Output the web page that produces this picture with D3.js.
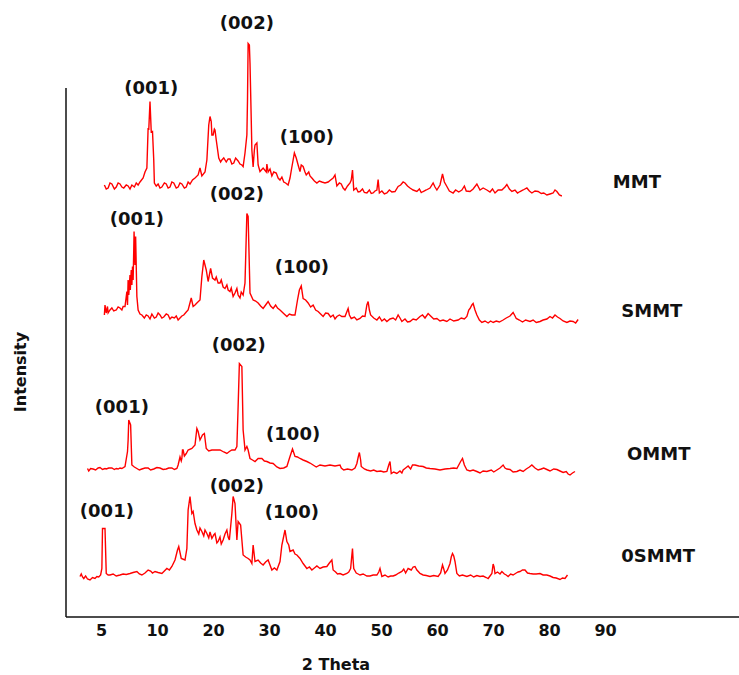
<!DOCTYPE html>
<html>
<head>
<meta charset="utf-8">
<script src="https://cdn.jsdelivr.net/npm/d3@7"></script>
<style>
  html, body { margin: 0; padding: 0; background: #fff; }
  svg text { font-family: "DejaVu Sans", sans-serif; font-weight: bold; fill: #111; }
</style>
</head>
<body>
<svg id="chart" width="739" height="675"></svg>
<script>
// ---------------- DATA ----------------
const sampleNames = ["MMT", "SMMT", "OMMT", "0SMMT"];
const tickLabels = ["5", "10", "20", "30", "40", "50", "60", "70", "80", "90"];
const xTitle = "2 Theta";
const yTitle = "Intensity";
// vertical stacking offsets (intensity units)
const offsets = [800, 550, 250, 40];

// [2θ, intensity] pairs
const mmt = [[8.9,30],[9.2,22],[9.5,24],[9.8,34],[10.1,32],[10.5,22],[10.8,26],[11.1,34],[11.4,32],[11.7,26],[12.0,24],[12.4,30],[12.7,28],[13.0,22],[13.3,30],[13.7,26],[14.0,34],[14.3,30],[14.6,36],[15.1,44],[15.4,56],[15.7,64],[15.9,144],[16.0,140],[16.2,197],[16.4,136],[16.6,137],[16.8,80],[16.9,34],[17.2,28],[17.5,32],[17.8,24],[18.1,26],[18.5,34],[18.8,32],[19.1,24],[19.4,26],[19.7,36],[20.0,34],[20.4,24],[20.7,26],[21.0,34],[21.3,32],[21.7,24],[22.0,26],[22.3,36],[22.6,32],[23.0,40],[23.4,44],[23.9,50],[24.2,64],[24.5,48],[25.0,56],[25.3,80],[25.6,150],[25.8,167],[26.0,157],[26.1,130],[26.3,130],[26.5,142],[26.6,140],[26.8,120],[27.2,84],[27.5,76],[27.7,80],[28.0,84],[28.4,76],[28.7,82],[29.0,82],[29.3,72],[29.6,74],[29.9,84],[30.3,78],[30.6,72],[30.9,70],[31.1,67],[31.4,94],[31.7,130],[31.8,200],[31.9,313],[32.1,310],[32.2,274],[32.4,160],[32.5,100],[32.7,66],[32.9,100],[33.0,110],[33.3,114],[33.5,70],[33.8,57],[34.3,64],[34.8,56],[34.9,72],[35.1,56],[35.4,62],[35.7,48],[36.0,56],[36.4,54],[36.7,44],[37.0,40],[37.3,46],[37.6,36],[37.9,34],[38.3,30],[38.6,44],[38.9,66],[39.1,80],[39.3,94],[39.6,84],[39.9,70],[40.2,57],[40.4,70],[40.7,67],[41.0,56],[41.2,50],[41.6,56],[41.8,48],[42.1,44],[42.5,38],[42.9,34],[43.3,38],[43.7,36],[44.2,34],[44.7,36],[45.1,40],[45.5,44],[45.8,50],[46.1,28],[46.5,34],[46.8,32],[47.1,24],[47.4,20],[47.8,28],[48.2,34],[48.4,40],[48.6,60],[48.8,20],[49.2,24],[49.5,16],[49.8,17],[50.2,22],[50.5,15],[50.9,14],[51.3,20],[51.6,13],[51.9,14],[52.2,18],[52.5,20],[52.7,41],[52.9,14],[53.3,18],[53.7,12],[54.1,14],[54.5,20],[54.9,16],[55.4,17],[55.9,27],[56.3,30],[56.7,36],[57.0,34],[57.4,28],[57.8,24],[58.3,20],[58.9,17],[59.3,22],[59.6,15],[59.9,17],[60.4,20],[61.0,24],[61.5,34],[61.8,26],[62.1,20],[62.6,30],[63.0,52],[63.3,36],[63.7,27],[64.1,18],[64.7,14],[65.1,20],[65.6,16],[66.1,20],[66.5,28],[66.8,18],[67.4,17],[67.9,22],[68.5,32],[69.0,20],[69.5,24],[70.1,20],[70.6,16],[71.0,22],[71.4,14],[71.9,20],[72.5,20],[73.0,26],[73.3,31],[73.7,22],[74.1,17],[74.6,20],[75.0,14],[75.4,17],[75.9,20],[76.5,24],[76.9,18],[77.3,14],[77.8,18],[78.3,17],[78.8,13],[79.2,14],[79.7,10],[80.2,12],[80.7,14],[81.0,20],[81.3,17],[81.7,10],[82.1,8]];

const smmt = [[8.9,20],[9.0,40],[9.2,24],[9.4,37],[9.5,24],[9.8,30],[10.1,34],[10.4,28],[10.8,30],[11.1,36],[11.4,34],[11.7,30],[11.9,37],[12.2,37],[12.5,67],[12.6,40],[12.7,90],[12.8,60],[13.0,100],[13.05,70],[13.2,110],[13.3,80],[13.4,117],[13.5,90],[13.6,150],[13.65,187],[13.8,120],[13.9,177],[14.1,57],[14.3,30],[14.6,22],[14.9,20],[15.3,14],[15.6,20],[15.9,18],[16.2,12],[16.5,22],[16.9,14],[17.2,16],[17.5,24],[17.8,20],[18.1,14],[18.4,16],[18.8,22],[19.1,20],[19.4,12],[19.7,16],[20.1,14],[20.4,18],[20.7,10],[21.0,14],[21.3,18],[21.6,20],[22.0,26],[22.3,30],[22.8,54],[23.1,37],[23.4,40],[23.7,44],[24.2,50],[24.5,97],[24.8,130],[25.2,110],[25.5,87],[25.9,113],[26.2,94],[26.6,90],[26.8,96],[27.1,84],[27.4,84],[27.6,90],[27.9,76],[28.2,73],[28.5,80],[28.7,70],[29.0,67],[29.2,74],[29.5,57],[29.8,64],[30.1,73],[30.3,60],[30.6,54],[30.8,66],[31.1,60],[31.4,84],[31.7,223],[31.9,217],[32.2,64],[32.7,50],[33.1,48],[33.5,44],[33.9,38],[34.3,33],[34.7,40],[35.1,47],[35.5,38],[35.9,33],[36.3,40],[36.6,34],[37.0,30],[37.5,24],[38.1,17],[38.5,22],[38.9,20],[39.4,20],[39.8,50],[40.1,70],[40.4,78],[40.7,53],[41.1,50],[41.5,44],[41.9,36],[42.3,40],[42.7,30],[43.1,27],[43.5,22],[43.9,17],[44.3,24],[44.7,23],[45.1,16],[45.5,20],[45.8,12],[46.1,17],[46.5,20],[46.9,17],[47.4,17],[47.9,33],[48.1,20],[48.4,13],[48.9,16],[49.3,10],[49.8,13],[50.2,18],[50.6,17],[50.9,40],[51.1,47],[51.3,30],[51.5,20],[52.0,14],[52.5,10],[52.9,16],[53.3,8],[53.7,12],[54.1,7],[54.6,12],[55.1,14],[55.5,10],[55.9,20],[56.2,14],[56.5,7],[57.0,12],[57.4,6],[57.8,7],[58.3,12],[58.8,10],[59.4,17],[59.8,20],[60.2,14],[60.7,23],[61.1,18],[61.6,12],[62.1,13],[62.6,8],[63.1,10],[63.7,7],[64.2,12],[64.8,8],[65.5,10],[66.0,14],[66.5,12],[66.9,17],[67.2,30],[67.4,33],[67.7,40],[67.9,43],[68.2,30],[68.5,20],[68.9,10],[69.3,5],[69.8,8],[70.3,4],[70.7,8],[71.1,5],[71.6,8],[72.1,6],[72.7,10],[73.2,14],[73.8,18],[74.3,25],[74.6,18],[74.8,13],[75.3,10],[75.8,6],[76.3,10],[77.0,7],[77.5,10],[78.0,5],[78.6,7],[79.1,10],[79.7,12],[80.2,17],[80.6,14],[81.0,20],[81.4,16],[81.8,13],[82.3,8],[82.9,5],[83.4,8],[83.9,7],[84.3,4],[84.7,11]];

const ommt = [[6.2,13],[6.4,8],[6.7,13],[7.1,12],[7.5,10],[7.9,14],[8.2,15],[8.6,11],[9.0,13],[9.2,12],[9.6,14],[10.1,14],[10.5,11],[10.8,13],[11.1,12],[11.4,14],[11.7,13],[12.2,17],[12.6,47],[12.7,70],[12.8,110],[13.1,100],[13.3,20],[13.7,16],[14.1,13],[14.5,10],[14.9,12],[15.4,14],[15.9,14],[16.3,10],[16.8,12],[17.3,15],[17.8,14],[18.3,11],[18.8,12],[19.2,14],[19.7,14],[20.1,11],[20.5,13],[20.7,20],[21.0,36],[21.2,28],[21.3,33],[21.4,50],[21.5,50],[21.7,38],[22.0,43],[22.3,50],[22.9,53],[23.4,60],[23.7,93],[23.9,87],[24.2,70],[24.6,80],[24.9,83],[25.2,53],[25.6,48],[26.1,50],[26.8,50],[27.4,50],[28.0,46],[28.5,43],[28.9,47],[29.3,50],[29.8,50],[30.1,57],[30.3,137],[30.5,223],[30.9,217],[31.1,90],[31.3,64],[31.4,50],[31.7,57],[31.9,50],[32.2,33],[32.6,30],[33.0,27],[33.5,33],[34.1,33],[34.5,28],[34.9,27],[35.4,24],[35.9,23],[36.5,16],[37.0,13],[37.6,14],[38.1,17],[38.6,37],[39.0,52],[39.4,37],[39.8,36],[40.2,33],[40.7,30],[41.3,27],[41.8,24],[42.3,20],[42.8,16],[43.4,20],[44.2,18],[45.0,20],[45.8,18],[46.6,20],[46.8,14],[47.2,10],[47.8,12],[48.5,10],[49.0,14],[49.3,23],[49.5,35],[49.7,45],[49.9,30],[50.0,17],[50.5,12],[50.9,10],[51.5,8],[52.0,10],[52.5,7],[53.1,8],[53.6,6],[54.1,7],[54.4,20],[54.6,27],[54.8,3],[55.2,6],[55.7,3],[56.2,8],[56.5,4],[56.7,10],[57.1,14],[57.5,18],[57.9,12],[58.2,20],[58.6,20],[59.2,18],[59.9,17],[60.4,14],[61.0,13],[61.8,12],[62.6,10],[63.4,12],[64.2,13],[64.8,14],[65.3,13],[65.9,27],[66.2,33],[66.5,20],[66.9,10],[67.4,8],[67.9,10],[68.5,7],[69.0,4],[69.5,8],[70.1,7],[70.8,10],[71.2,6],[71.7,10],[72.2,14],[72.7,20],[73.0,14],[73.3,12],[73.8,11],[74.3,6],[74.9,7],[75.4,10],[75.9,7],[76.4,12],[76.9,16],[77.3,20],[77.8,14],[78.3,10],[78.8,12],[79.2,14],[79.7,11],[80.2,8],[80.8,12],[81.3,11],[81.8,8],[82.3,5],[82.8,7],[83.1,2],[83.4,0],[83.8,4],[84.2,7]];

const osmmt = [[5.0,7],[5.2,12],[5.4,6],[5.6,3],[5.9,8],[6.2,2],[6.6,0],[7.0,5],[7.4,3],[7.7,7],[8.0,6],[8.3,10],[8.5,23],[8.6,103],[9.0,103],[9.2,13],[9.5,10],[9.8,10],[10.3,12],[10.8,8],[11.4,10],[11.9,12],[12.4,11],[13.0,13],[13.5,15],[14.1,17],[14.5,12],[14.9,10],[15.4,14],[15.9,20],[16.3,18],[16.6,14],[17.0,17],[17.5,15],[18.1,13],[18.5,18],[18.9,23],[19.3,20],[19.7,27],[20.2,40],[20.6,60],[20.8,67],[21.2,43],[21.8,40],[22.1,63],[22.3,140],[22.6,167],[22.9,133],[23.1,137],[23.4,113],[23.7,100],[24.0,92],[24.2,104],[24.5,97],[24.8,88],[25.0,100],[25.3,93],[25.6,84],[25.8,96],[26.1,83],[26.4,90],[26.6,93],[26.9,74],[27.1,77],[27.4,86],[27.6,72],[27.9,80],[28.2,92],[28.5,100],[28.7,86],[28.9,80],[29.3,133],[29.5,167],[29.8,153],[30.1,80],[30.3,117],[30.7,110],[31.1,50],[31.5,46],[31.9,43],[32.2,40],[32.5,33],[32.7,70],[33.0,37],[33.5,40],[33.9,34],[34.3,30],[34.7,36],[35.1,40],[35.4,30],[35.7,20],[36.1,24],[36.5,20],[37.0,37],[37.3,70],[37.8,100],[38.1,77],[38.4,70],[38.6,57],[39.1,60],[39.4,52],[39.7,50],[40.2,43],[40.7,33],[41.3,23],[41.7,26],[42.1,20],[42.5,24],[42.9,28],[43.4,23],[43.9,26],[44.5,27],[44.9,34],[45.3,40],[45.5,20],[45.9,16],[46.2,12],[46.6,13],[47.1,10],[47.7,13],[48.0,16],[48.3,23],[48.5,50],[48.6,63],[48.7,40],[48.8,23],[49.2,14],[49.5,12],[49.8,10],[50.3,12],[50.9,8],[51.4,8],[51.9,10],[52.5,10],[52.8,16],[53.0,23],[53.3,7],[53.8,10],[54.3,6],[54.7,8],[55.1,8],[55.5,10],[56.0,14],[56.5,17],[56.8,22],[57.1,14],[57.5,23],[58.0,20],[58.3,26],[58.6,27],[58.9,20],[59.2,16],[59.4,13],[59.9,10],[60.4,9],[61.0,7],[61.6,9],[62.3,7],[62.7,14],[63.0,30],[63.2,22],[63.4,13],[63.8,20],[64.2,33],[64.4,46],[64.6,53],[64.8,48],[65.0,37],[65.3,13],[65.7,8],[66.2,10],[66.9,7],[67.5,10],[68.0,6],[68.5,9],[69.0,7],[69.5,8],[70.0,5],[70.3,3],[70.6,8],[70.9,13],[71.1,32],[71.25,26],[71.4,13],[71.8,16],[72.2,12],[72.5,17],[72.9,12],[73.2,10],[73.5,7],[73.9,12],[74.3,10],[74.8,14],[75.1,16],[75.4,17],[75.8,20],[76.2,20],[76.6,14],[77.0,13],[77.5,12],[78.0,12],[78.6,13],[79.1,10],[79.7,10],[80.2,8],[80.7,5],[81.2,4],[81.8,1],[82.2,4],[82.6,3],[83.0,10]];

const seriesData = [mmt, smmt, ommt, osmmt];

// peak labels: [text, 2θ, intensity-level] per series
const peakLabels = [
  [["(001)",16.4,1026],["(002)",31.7,1156],["(100)",41.3,927]],
  [["(001)",14.1,763],["(002)",30.1,814],["(100)",40.5,667]],
  [["(001)",11.7,387],["(002)",30.4,512],["(100)",39.1,333]],
  [["(001)",9.3,180],["(002)",30.1,230],["(100)",38.9,177]]
];
// sample name positions [2θ, intensity-level]
const namePos = [[94.1,838],[96.5,580],[97.6,294],[97.5,90]];

// ---------------- CHART ----------------
const svg = d3.select("#chart");
svg.append("rect").attr("width", 739).attr("height", 675).attr("fill", "#fff");

const x = d3.scaleLinear().domain([5, 85]).range([80, 580]);
const y = d3.scaleLinear().domain([0, 1100]).range([600, 50]);
const xCat = d3.scalePoint().domain(tickLabels).range([101, 605]);

// axes lines
svg.append("line").attr("x1", 66).attr("x2", 66).attr("y1", 88).attr("y2", 617)
  .attr("stroke", "#111").attr("stroke-width", 1.5);
svg.append("line").attr("x1", 66).attr("x2", 739).attr("y1", 617).attr("y2", 617)
  .attr("stroke", "#111").attr("stroke-width", 1.5);

// category tick labels
const xAxis = svg.append("g").attr("transform", "translate(0,622)")
  .call(d3.axisBottom(xCat).tickSize(0).tickSizeOuter(0));
xAxis.select(".domain").remove();
xAxis.selectAll("text")
  .attr("font-family", "DejaVu Sans").attr("font-weight", "bold")
  .attr("font-size", 16).attr("fill", "#111");

// titles
svg.append("text").attr("x", 336).attr("y", 664).attr("text-anchor", "middle")
  .attr("dominant-baseline", "central").attr("font-size", 16).text(xTitle);
svg.append("text").attr("transform", "translate(20,372) rotate(-90)")
  .attr("text-anchor", "middle").attr("dominant-baseline", "central")
  .attr("font-size", 16).text(yTitle);

// traces
const line = d3.line().x(d => x(d[0])).y(d => y(d[1]));
seriesData.forEach((s, i) => {
  const pts = s.map(d => [d[0], d[1] + offsets[i]]);
  svg.append("path").datum(pts).attr("d", line)
    .attr("fill", "none").attr("stroke", "#ff0000")
    .attr("stroke-width", 1.4).attr("stroke-linejoin", "miter");
});

// peak labels
peakLabels.forEach(group => {
  group.forEach(([t, tx, ty]) => {
    svg.append("text").attr("x", x(tx)).attr("y", y(ty))
      .attr("text-anchor", "middle").attr("dominant-baseline", "central")
      .attr("font-size", 18).text(t);
  });
});

// sample names
sampleNames.forEach((n, i) => {
  svg.append("text").attr("x", x(namePos[i][0])).attr("y", y(namePos[i][1]))
    .attr("text-anchor", "middle").attr("dominant-baseline", "central")
    .attr("font-size", 18).text(n);
});
</script>
</body>
</html>
